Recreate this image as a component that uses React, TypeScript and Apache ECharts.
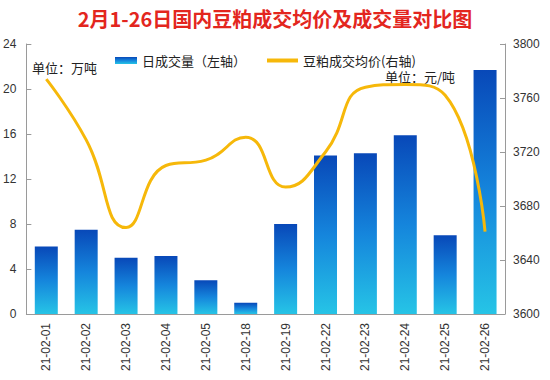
import React, { useEffect, useRef } from "react";
import * as echarts from "echarts";

const categories = [
  "21-02-01", "21-02-02", "21-02-03", "21-02-04", "21-02-05", "21-02-18",
  "21-02-19", "21-02-22", "21-02-23", "21-02-24", "21-02-25", "21-02-26",
];
const volume = [6.0, 7.5, 5.0, 5.15, 3.0, 1.0, 8.0, 14.1, 14.3, 15.9, 7.0, 21.7];
const price = [3774, 3729, 3664, 3710, 3714, 3731, 3694, 3720, 3768, 3770, 3762, 3661];
const leftTicks = { min: 0, max: 24, interval: 4 };
const rightTicks = { min: 3600, max: 3800, interval: 40 };

const titleText = "2月1-26日国内豆粕成交均价及成交量对比图";
const barName = "日成交量（左轴）";
const lineName = "豆粕成交均价(右轴)";
const leftUnit = "单位：万吨";
const rightUnit = "单位：元/吨";

const FONT = "'Noto Sans CJK SC', 'Noto Sans', sans-serif";
const NUMFONT = "'Liberation Sans', Arial, sans-serif";

export default function App() {
  const ref = useRef<HTMLDivElement>(null);
  useEffect(() => {
    if (!ref.current) return;
    const chart = echarts.init(ref.current, null, { renderer: "svg" });
    const barColor = new echarts.graphic.LinearGradient(0, 0, 0, 1, [
      { offset: 0, color: "#0848B8" },
      { offset: 0.5, color: "#1585DC" },
      { offset: 1, color: "#26C4E6" },
    ]);
    chart.setOption({
      animation: false,
      backgroundColor: "#ffffff",
      title: {
        text: titleText,
        left: "center",
        top: 3,
        textStyle: { color: "#E3261E", fontSize: 20, fontWeight: "bold", fontFamily: FONT },
      },
      legend: [
        {
          data: [{ name: barName, icon: "rect" }],
          left: 110,
          top: 49,
          itemWidth: 22,
          itemHeight: 7,
          textStyle: { fontSize: 13, color: "#222", fontFamily: FONT },
        },
        {
          data: [{ name: lineName, icon: "rect" }],
          left: 262,
          top: 49,
          itemWidth: 31,
          itemHeight: 4,
          textStyle: { fontSize: 13, color: "#222", fontFamily: FONT },
        },
      ],
      grid: { left: 25, right: 45, top: 44, bottom: 66 },
      xAxis: {
        type: "category",
        data: categories,
        boundaryGap: true,
        axisLine: { lineStyle: { color: "#9a9a9a", width: 1 } },
        axisTick: { inside: true, length: 4, lineStyle: { color: "#9a9a9a" } },
        axisLabel: {
          rotate: 90,
          interval: 0,
          margin: 9,
          fontSize: 12,
          color: "#333",
          fontFamily: NUMFONT,
        },
      },
      yAxis: [
        {
          type: "value",
          ...leftTicks,
          position: "left",
          axisLine: { show: true, lineStyle: { color: "#9a9a9a" } },
          axisTick: { show: true, inside: true, length: 5, lineStyle: { color: "#9a9a9a" } },
          splitLine: { show: false },
          axisLabel: {
            margin: 10,
            fontSize: 12,
            color: "#333",
            fontFamily: NUMFONT,
            formatter: (v: number) => String(v),
          },
        },
        {
          type: "value",
          ...rightTicks,
          position: "right",
          axisLine: { show: true, lineStyle: { color: "#9a9a9a" } },
          axisTick: { show: true, inside: true, length: 5, lineStyle: { color: "#9a9a9a" } },
          splitLine: { show: false },
          axisLabel: {
            margin: 8,
            fontSize: 12,
            color: "#333",
            fontFamily: NUMFONT,
            formatter: (v: number) => String(v),
          },
        },
      ],
      graphic: [
        {
          type: "text",
          left: 32,
          top: 61,
          style: { text: leftUnit, fontSize: 13, fill: "#222", fontFamily: FONT },
        },
        {
          type: "text",
          left: 385,
          top: 70,
          style: { text: rightUnit, fontSize: 13, fill: "#222", fontFamily: FONT },
        },
      ],
      series: [
        {
          name: barName,
          type: "bar",
          yAxisIndex: 0,
          data: volume,
          barWidth: 23,
          itemStyle: { color: barColor },
        },
        {
          name: lineName,
          type: "line",
          yAxisIndex: 1,
          data: price,
          smooth: 0.5,
          showSymbol: false,
          symbol: "none",
          lineStyle: { color: "#F6B80A", width: 3 },
          itemStyle: { color: "#F6B80A" },
          z: 5,
        },
      ],
    });
    return () => chart.dispose();
  }, []);
  return (
    <div
      ref={ref}
      style={{ position: "fixed", left: 0, top: 0, width: 550, height: 380 }}
    />
  );
}
